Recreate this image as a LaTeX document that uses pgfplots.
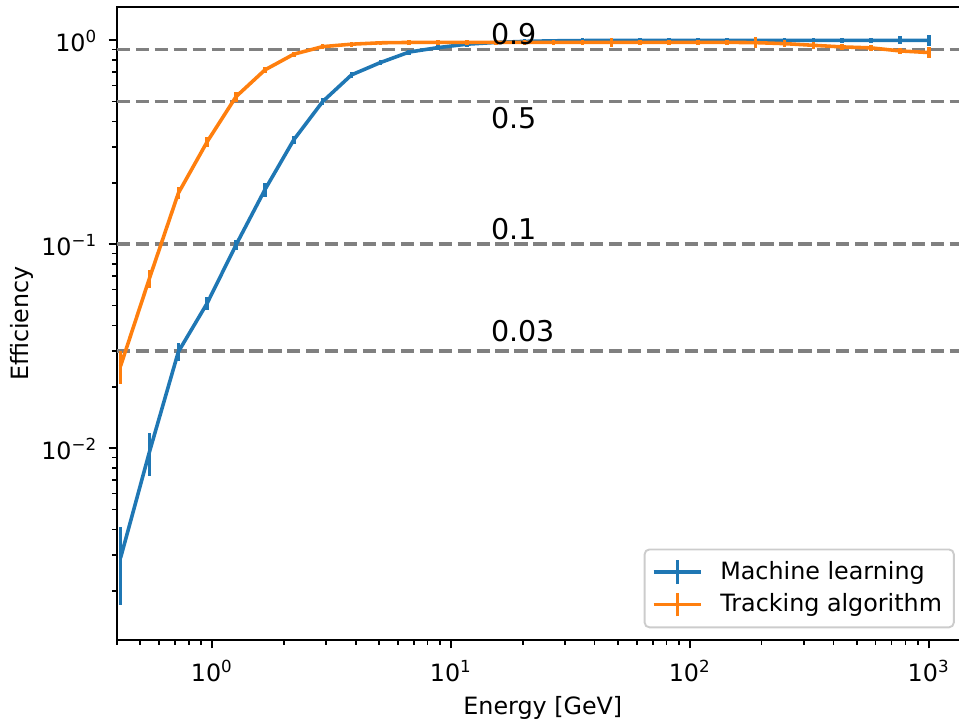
\documentclass[border=0pt]{standalone}
\usepackage{fontspec}
\setmainfont{DejaVu Sans}
\usepackage{pgfplots}
\usepackage{pgfplotstable}
\pgfplotsset{compat=1.18}
\definecolor{mlblue}{HTML}{1F77B4}
\definecolor{trorange}{HTML}{FF7F0E}

% energy [GeV], efficiency, error
\pgfplotstableread{
x y e
0.4145 0.0029 0.0012
0.5476 0.0096 0.0023
0.7234 0.0297 0.003
0.9550 0.0514 0.004
1.2613 0.0993 0.006
1.6656 0.185 0.014
2.2000 0.325 0.016
2.9055 0.500 0.020
3.8371 0.676 0.024
5.0674 0.777 0.025
6.6925 0.875 0.025
8.8378 0.920 0.025
11.672 0.956 0.025
15.417 0.975 0.025
20.360 0.987 0.025
26.890 0.993 0.025
35.515 0.996 0.025
46.903 0.998 0.025
61.944 0.999 0.025
81.808 0.999 0.025
108.05 0.999 0.025
142.70 0.999 0.025
188.45 0.999 0.025
248.89 0.999 0.025
328.70 0.999 0.025
434.12 0.999 0.025
573.31 0.999 0.030
757.20 0.999 0.045
1000.0 0.999 0.060
}\mldata

\pgfplotstableread{
x y e
0.4145 0.0253 0.0047
0.5476 0.0681 0.007
0.7234 0.178 0.012
0.9550 0.318 0.018
1.2613 0.529 0.030
1.6656 0.715 0.028
2.2000 0.854 0.025
2.9055 0.930 0.025
3.8371 0.956 0.025
5.0674 0.971 0.025
6.6925 0.975 0.025
8.8378 0.976 0.025
11.672 0.976 0.025
15.417 0.976 0.025
20.360 0.976 0.025
26.890 0.976 0.025
35.515 0.976 0.025
46.903 0.976 0.045
61.944 0.976 0.030
81.808 0.976 0.030
108.05 0.976 0.030
142.70 0.976 0.030
188.45 0.973 0.060
248.89 0.962 0.040
328.70 0.944 0.035
434.12 0.927 0.030
573.31 0.917 0.028
757.20 0.886 0.028
1000.0 0.870 0.055
}\trdata

\begin{document}
\begin{tikzpicture}
\begin{axis}[
    scale only axis,
    width=357.8pt, height=265.9pt,
    xmode=log, ymode=log,
    xmin=0.4, xmax=1470,
    ymin=0.001148, ymax=1.456,
    xtick={1,10,100,1000},
    xticklabels={10\textsuperscript{0},10\textsuperscript{1},10\textsuperscript{2},10\textsuperscript{3}},
    ytick={0.01,0.1,1},
    yticklabels={10\textsuperscript{−2},10\textsuperscript{−1},10\textsuperscript{0}},
    minor xtick={0.4,0.5,0.6,0.7,0.8,0.9,2,3,4,5,6,7,8,9,20,30,40,50,60,70,80,90,200,300,400,500,600,700,800,900},
    minor ytick={0.002,0.003,0.004,0.005,0.006,0.007,0.008,0.009,0.02,0.03,0.04,0.05,0.06,0.07,0.08,0.09,0.2,0.3,0.4,0.5,0.6,0.7,0.8,0.9},
    xtick pos=bottom, ytick pos=left,
    tick align=outside,
    major tick length=3.5pt, minor tick length=2pt,
    every major tick/.append style={line width=0.8pt, black},
    every minor tick/.append style={line width=0.6pt, black},
    axis line style={line width=0.8pt},
    ticklabel style={font=\fontsize{10}{12}\selectfont},
    xticklabel style={anchor=base, inner sep=0pt, yshift=-14pt},
    yticklabel style={anchor=base east, inner sep=0pt, xshift=-4.5pt, yshift=-4.8pt},
    xlabel={Energy [GeV]},
    ylabel={Efficiency},
    label style={font=\fontsize{10}{12}\selectfont},
    xlabel style={at={(axis description cs:0.5,-0.117)}, anchor=base, inner sep=0pt},
    ylabel style={at={(axis description cs:-0.1115,0.5)}, anchor=center, inner sep=0pt},
    legend cell align=left,
    legend style={at={(axis description cs:0.9836,0.0185)}, anchor=south east,
        draw=black!20, line width=0.8pt, rounded corners=2pt,
        fill=white, fill opacity=0.8, text opacity=1,
        font=\fontsize{10}{12}\selectfont,
        inner xsep=3pt, inner ysep=3pt,
        nodes={inner sep=2pt},
        /tikz/column sep=5.3pt, /tikz/row sep=0.5pt},
    legend image code/.code={
        \draw[line width=1.5pt] (0pt,0pt) -- (20pt,0pt);
        \draw[line width=1.5pt] (10pt,-5pt) -- (10pt,5pt);
    },
]
\coordinate (O) at (rel axis cs:0,0);

\addplot[forget plot, gray, line width=1.5pt, dash pattern=on 5.55pt off 2.4pt] coordinates {(0.4,0.9) (1470,0.9)};
\addplot[forget plot, gray, line width=1.5pt, dash pattern=on 5.55pt off 2.4pt] coordinates {(0.4,0.5) (1470,0.5)};
\addplot[forget plot, gray, line width=1.5pt, dash pattern=on 5.55pt off 2.4pt] coordinates {(0.4,0.1) (1470,0.1)};
\addplot[forget plot, gray, line width=1.5pt, dash pattern=on 5.55pt off 2.4pt] coordinates {(0.4,0.03) (1470,0.03)};

\addplot[mlblue, line width=1.5pt, mark=none, line join=round,
    error bars/.cd, y dir=both, y explicit, error mark=none,
    error bar style={line width=1.5pt, mlblue}]
    table[x=x, y=y, y error=e] {\mldata};
\addlegendentry{Machine learning}

\addplot[trorange, line width=1.5pt, mark=none, line join=round,
    error bars/.cd, y dir=both, y explicit, error mark=none,
    error bar style={line width=1.5pt, trorange}]
    table[x=x, y=y, y error=e] {\trdata};
\addlegendentry{Tracking algorithm}

\node[anchor=base west, inner sep=0pt, font=\fontsize{12}{14}\selectfont] at (axis cs:14.7,0.948) {0.9};
\node[anchor=base west, inner sep=0pt, font=\fontsize{12}{14}\selectfont] at (axis cs:14.7,0.3704) {0.5};
\node[anchor=base west, inner sep=0pt, font=\fontsize{12}{14}\selectfont] at (axis cs:14.7,0.105) {0.1};
\node[anchor=base west, inner sep=0pt, font=\fontsize{12}{14}\selectfont] at (axis cs:14.7,0.0333) {0.03};
\end{axis}
\pgfresetboundingbox
\path (O) ++(-49.1pt,-34.9pt) rectangle ++(402.8pt,303.7pt);
\end{tikzpicture}
\end{document}
